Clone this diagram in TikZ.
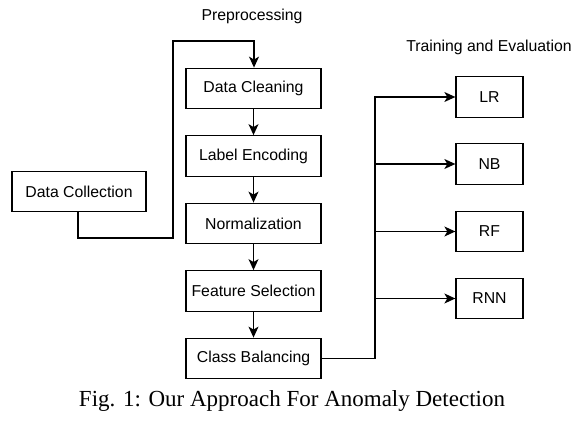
\documentclass[tikz,border=0pt]{standalone}
\usepackage{fontspec}
\setmainfont{Liberation Serif}
\setsansfont{Liberation Sans}
\usetikzlibrary{arrows.meta}
\begin{document}
\begin{tikzpicture}[x=1pt,y=-1pt,
  box/.style={draw, line width=1.3pt, minimum height=40.5pt, inner sep=0pt, font=\sffamily\fontsize{15.8}{18}\selectfont},
  pbox/.style={box, minimum width=135pt},
  mbox/.style={box, minimum width=67pt},
  lbl/.style={font=\sffamily\fontsize{15.8}{18}\selectfont, inner sep=0pt},
  conn/.style={draw, line width=1.3pt, -{Stealth[length=11pt,width=10pt,inset=3pt]}},
  plain/.style={draw, line width=1.3pt}]
\useasboundingbox (0,0) rectangle (580,420);
\node[box, minimum width=134pt] (dc) at (79,191.5) {Data Collection};
\node[pbox] (clean) at (253.5,88.5) {Data Cleaning};
\node[pbox] (enc) at (253.5,156) {Label Encoding};
\node[pbox] (norm) at (253.5,223.5) {Normalization};
\node[pbox] (feat) at (253.5,291) {Feature Selection};
\node[pbox] (bal) at (253.5,358.5) {Class Balancing};
\node[mbox] (lr) at (489.5,97) {LR};
\node[mbox] (nb) at (489.5,164) {NB};
\node[mbox] (rf) at (489.5,231.5) {RF};
\node[mbox] (rnn) at (489.5,298.5) {RNN};
\node[lbl] (pre) at (252,16) {Preprocessing};
\node[lbl] (tr) at (489,47) {Training and Evaluation};
\node[font=\fontsize{23}{26}\selectfont, inner sep=0pt] (cap) at (292,401) {Fig. 1: Our Approach For Anomaly Detection};
\coordinate (a1) at (78,238);
\coordinate (a2) at (173,238);
\coordinate (a3) at (173,41);
\coordinate (a4) at (254,41);
\draw[conn] (dc.south -| a1) -- (a1) -- (a2) -- (a3) -- (a4) -- (clean.north -| a4);
\draw[conn] (clean) -- (enc);
\draw[conn] (enc) -- (norm);
\draw[conn] (norm) -- (feat);
\draw[conn] (feat) -- (bal);
\coordinate (bus) at (375,358.5);
\draw[conn] (bal.east) -- (bus) |- (lr.west);
\draw[conn] (bus) |- (nb.west);
\draw[conn] (bus) |- (rf.west);
\draw[conn] (bus) |- (rnn.west);
\end{tikzpicture}
\end{document}
